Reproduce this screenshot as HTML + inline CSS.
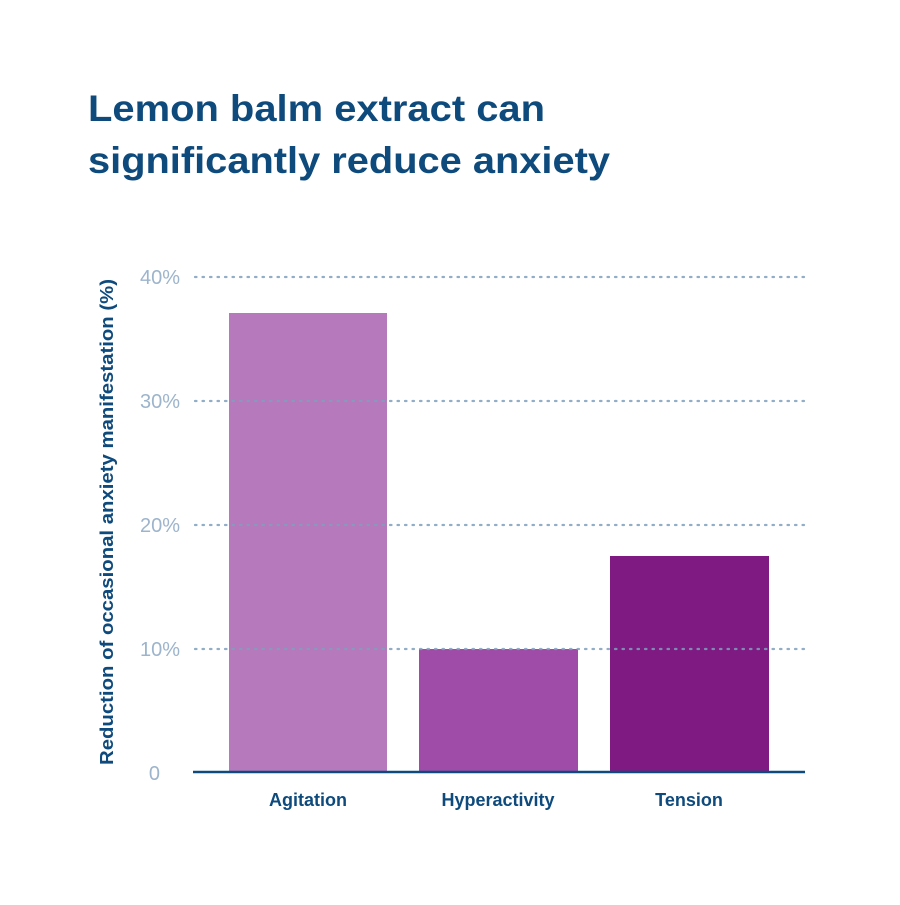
<!DOCTYPE html>
<html><head><style>html,body{margin:0;padding:0;background:#fff}</style></head>
<body>
<svg width="900" height="900" xmlns="http://www.w3.org/2000/svg" font-family="Liberation Sans, sans-serif">
<rect width="900" height="900" fill="#fff"/>
<text x="88" y="121" font-size="37" fill="#0e4a7c" font-weight="bold" textLength="457" lengthAdjust="spacingAndGlyphs">Lemon balm extract can</text>
<text x="88" y="173" font-size="37" fill="#0e4a7c" font-weight="bold" textLength="522" lengthAdjust="spacingAndGlyphs">significantly reduce anxiety</text>
<rect x="229" y="313" width="158" height="459" fill="#b679bc"/>
<rect x="419" y="649" width="159" height="123" fill="#9f4ca8"/>
<rect x="610" y="556" width="159" height="216" fill="#7e1a82"/>
<g stroke="#7f9fbd" stroke-width="2.2" stroke-dasharray="1.5 6" stroke-linecap="round" opacity="0.85">
<line x1="195" y1="277" x2="805" y2="277"/>
<line x1="195" y1="401" x2="805" y2="401"/>
<line x1="195" y1="525" x2="805" y2="525"/>
<line x1="195" y1="649" x2="805" y2="649"/>
</g>
<line x1="193" y1="772" x2="805" y2="772" stroke="#0e4a7c" stroke-width="2.5"/>
<g font-size="20" fill="#9cb4cc" text-anchor="end">
<text x="180" y="284">40%</text>
<text x="180" y="408">30%</text>
<text x="180" y="532">20%</text>
<text x="180" y="656">10%</text>
<text x="160" y="780">0</text>
</g>
<g font-size="18" fill="#0e4a7c" font-weight="bold" text-anchor="middle">
<text x="308" y="806">Agitation</text>
<text x="498" y="806">Hyperactivity</text>
<text x="689" y="806">Tension</text>
</g>
<text transform="translate(113,522) rotate(-90)" font-size="18" fill="#0e4a7c" font-weight="bold" text-anchor="middle" textLength="486" lengthAdjust="spacingAndGlyphs">Reduction of occasional anxiety manifestation (%)</text>
</svg>
</body></html>
